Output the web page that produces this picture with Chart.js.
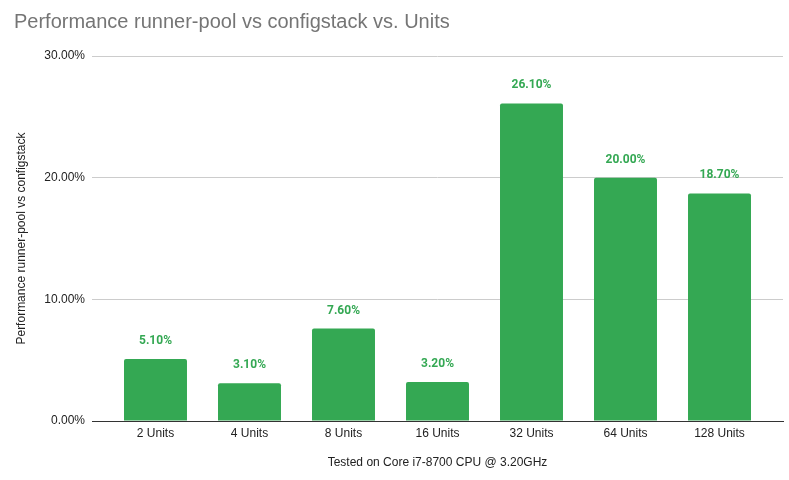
<!DOCTYPE html>
<html>
<head>
<meta charset="utf-8">
<script src="https://cdn.jsdelivr.net/npm/chart.js@4.4.1/dist/chart.umd.min.js"></script>
<style>
    html, body { margin: 0; padding: 0; background: #fff; }
    #wrap { width: 789px; height: 480px; }
</style>
</head>
<body>
<div id="wrap"><canvas id="barChart"></canvas></div>
<script>
// dados do gráfico
const units = ['2 Units', '4 Units', '8 Units', '16 Units', '32 Units', '64 Units', '128 Units'];
const perf = [5.1, 3.1, 7.6, 3.2, 26.1, 20.0, 18.7];
const yTicks = [0, 10, 20, 30];

const green = '#34a853';

// rótulos em cima das barras
const barLabels = {
    id: 'barLabels',
    afterDatasetsDraw(chart) {
        const ctx = chart.ctx;
        const meta = chart.getDatasetMeta(0);
        ctx.save();
        ctx.font = 'bold 12px Roboto';
        ctx.fillStyle = green;
        ctx.textAlign = 'center';
        ctx.textBaseline = 'middle';
        meta.data.forEach((bar, i) => {
            ctx.fillText(perf[i].toFixed(2) + '%', bar.x, bar.y - 18);
        });
        ctx.restore();
    }
};

const ctx = document.getElementById('barChart').getContext('2d');
new Chart(ctx, {
    type: 'bar',
    data: {
        datasets: [{
            data: perf.map((v, i) => ({ x: i, y: v })),
            backgroundColor: green,
            borderRadius: 2,
            barPercentage: 0.67,
            categoryPercentage: 1
        }]
    },
    options: {
        responsive: true,
        maintainAspectRatio: false,
        animation: false,
        layout: { padding: { left: 14, right: 6, top: 10, bottom: 0 } },
        plugins: {
            legend: { display: false },
            tooltip: { enabled: false },
            title: {
                display: true,
                text: 'Performance runner-pool vs configstack vs. Units',
                align: 'start',
                color: '#757575',
                font: { family: 'Liberation Sans', size: 20, weight: 'normal', lineHeight: 1.2 },
                padding: { top: 0, bottom: 22 }
            }
        },
        scales: {
            x: {
                type: 'linear',
                offset: false,
                min: -0.6755,
                max: 6.6755,
                afterBuildTicks: scale => { scale.ticks = units.map((u, i) => ({ value: i })); },
                grid: { display: false, drawTicks: false },
                border: { display: true, color: '#333', width: 1 },
                ticks: {
                    autoSkip: false,
                    maxRotation: 0,
                    padding: 5,
                    color: '#222',
                    font: { family: 'Liberation Sans', size: 12 },
                    callback: v => units[v]
                },
                title: {
                    display: true,
                    text: 'Tested on Core i7-8700 CPU @ 3.20GHz',
                    color: '#222',
                    font: { family: 'Liberation Sans', size: 12 },
                    padding: { top: 0, bottom: 10 }
                },
                afterFit: scale => { scale.height = 59; }
            },
            y: {
                min: 0,
                max: 30,
                afterBuildTicks: scale => { scale.ticks = yTicks.map(v => ({ value: v })); },
                grid: {
                    drawTicks: false,
                    color: c => c.tick.value === 0 ? '#333' : '#cccccc'
                },
                border: { display: false },
                ticks: {
                    padding: 7,
                    color: '#222',
                    font: { family: 'Liberation Sans', size: 12 },
                    callback: v => v.toFixed(2) + '%'
                },
                title: {
                    display: true,
                    text: 'Performance runner-pool vs configstack',
                    color: '#222',
                    font: { family: 'Liberation Sans', size: 12 },
                    padding: { top: 0, bottom: 0 }
                },
                afterFit: scale => { scale.width = 78; }
            }
        }
    },
    plugins: [barLabels]
});
</script>
</body>
</html>
